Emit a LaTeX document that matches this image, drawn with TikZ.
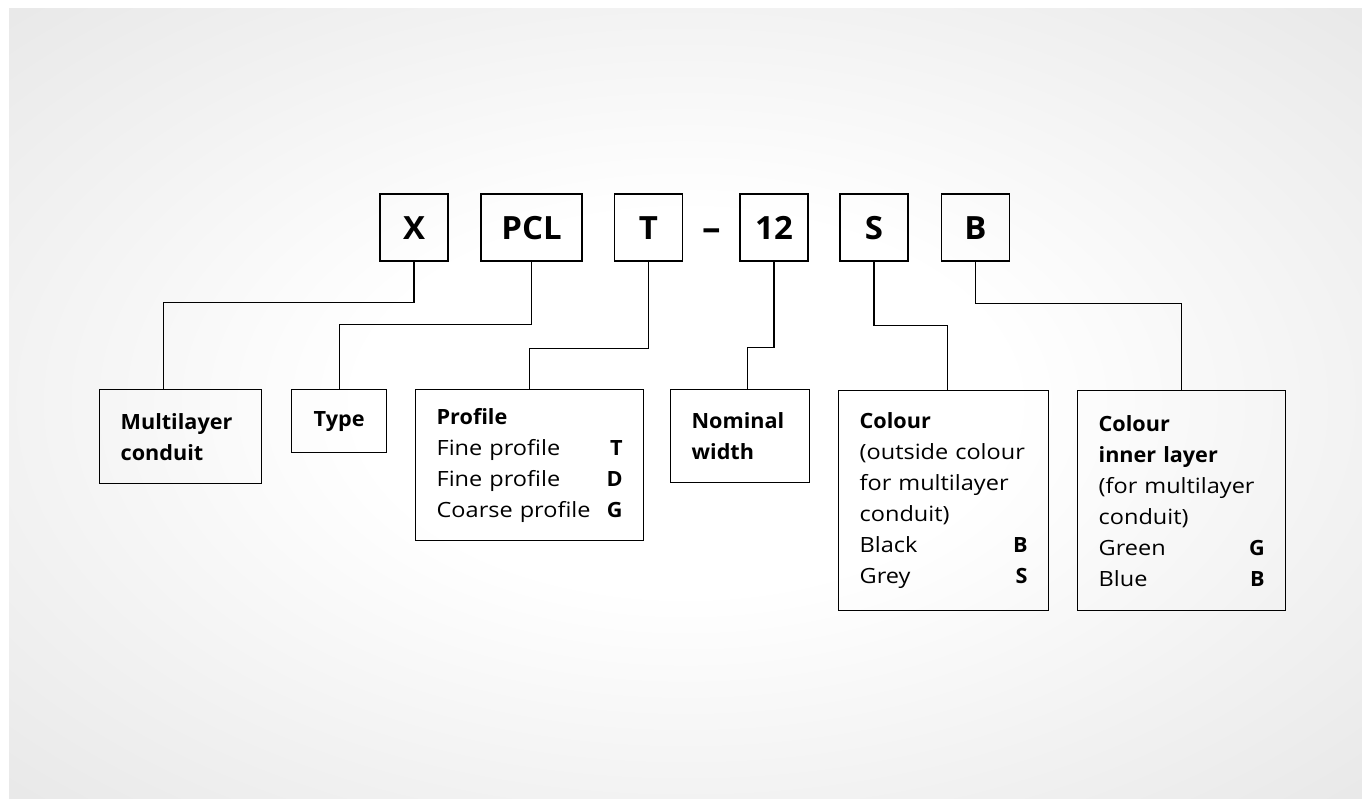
\documentclass[tikz,border=0pt]{standalone}
\usepackage{fontspec}
\setmainfont{Open Sans}[UprightFeatures={FakeStretch=1.12},BoldFeatures={FakeStretch=1.03}]
\newcommand{\codefill}{\hskip 0pt plus 1filll}
\pgfdeclareradialshading{panelshade}{\pgfpoint{0bp}{0bp}}{color(0bp)=(white); color(12bp)=(white); color(25bp)=(black!5); color(36bp)=(black!9); color(50bp)=(black!9)}
\begin{document}
\begin{tikzpicture}[x=1pt,y=-1pt]
\tikzset{codebox/.style = {shape=rectangle,draw,line width=1.6pt,minimum width=68pt,minimum height=67pt,inner sep=0pt,text height=23pt,text depth=0pt,font=\fontsize{32}{38}\selectfont\bfseries}}
\tikzset{infobox/.style = {shape=rectangle,draw,line width=1.3pt,anchor=north west,inner xsep=21pt,inner ysep=0pt,align=left,font=\fontsize{21}{31}\selectfont}}
\tikzset{link/.style = {-,line width=1.2pt}}
\useasboundingbox (0,0) rectangle (1362,798);
% background panel
\fill[white] (0,0) rectangle (1362,798);
\shade[shading=panelshade] (9,8) rectangle (1362,798);
% code boxes on top
\node[codebox] (x) at (414,227.5) {X};
\node[codebox,minimum width=101pt] (pcl) at (531.5,227.5) {PCL};
\node[codebox] (t) at (648.5,227.5) {T};
\node[font=\fontsize{36}{40}\selectfont\bfseries] (dash) at (712,235) {--};
\node[codebox] (nw) at (774,227.5) {12};
\node[codebox] (s) at (874,227.5) {S};
\node[codebox] (b) at (975.5,227.5) {B};
% description boxes below
\node[infobox,text width=120pt,minimum height=94pt] (multi) at (99,389) {\textbf{Multilayer}\\\textbf{conduit}};
\node[infobox,align=center,inner xsep=0pt,minimum width=95pt,minimum height=63pt] (type) at (291,389) {\textbf{Type}};
\node[infobox,text width=186pt,minimum height=151pt] (prof) at (415,389) {\textbf{Profile}\\Fine profile\codefill\textbf{T}\\Fine profile\codefill\textbf{D}\\Coarse profile\codefill\textbf{G}};
\node[infobox,text width=97pt,minimum height=93pt] (nom) at (670,389) {\textbf{Nominal}\\\textbf{width}};
\node[infobox,text width=168pt,minimum height=220pt] (col) at (838,390) {\textbf{Colour}\\(outside colour\\for multilayer\\conduit)\\Black\codefill\textbf{B}\\Grey\codefill\textbf{S}};
\node[infobox,text width=166pt,minimum height=220pt] (inner) at (1077,390) {\textbf{Colour}\\\textbf{inner layer}\\(for multilayer\\conduit)\\Green\codefill\textbf{G}\\Blue\codefill\textbf{B}};
% connectors
\draw[link] (x.south) -- ++(0,41) -| ([xshift=-17pt]multi.north);
\draw[link] (pcl.south) -- ++(0,63) -| (type.north);
\draw[link] (t.south) -- ++(0,87) -| (prof.north);
\draw[link] (nw.south) -- ++(0,86) -| ([xshift=7.5pt]nom.north);
\draw[link] (s.south) -- ++(0,64) -| ([xshift=4pt]col.north);
\draw[link] (b.south) -- ++(0,42) -| (inner.north);
\end{tikzpicture}
\end{document}
